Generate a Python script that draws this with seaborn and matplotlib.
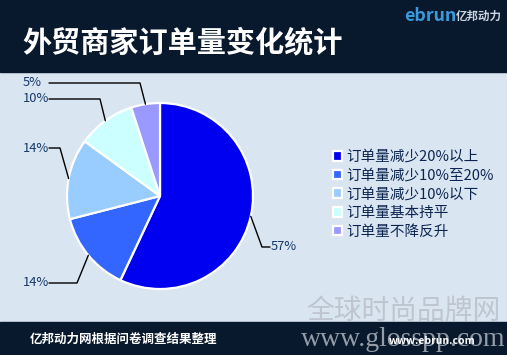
import matplotlib
matplotlib.use("Agg")
import matplotlib.pyplot as plt
import seaborn as sns
import numpy as np
from matplotlib.patches import Rectangle

# ---- data ----
categories = ["订单量减少20%以上", "订单量减少10%至20%", "订单量减少10%以下",
              "订单量基本持平", "订单量不降反升"]
values = [57, 14, 14, 10, 5]
pct_labels = ["57%", "14%", "14%", "10%", "5%"]
colors = ["#0000F0", "#3366FF", "#99CCFF", "#CCFFFF", "#9999FF"]

title = "外贸商家订单量变化统计"
footer = "亿邦动力网根据问卷调查结果整理"

sns.set_style("white")
plt.rcParams['font.family'] = ['Noto Sans CJK SC', 'DejaVu Sans']

W, H = 507, 355
fig = plt.figure(figsize=(W / 100, H / 100), dpi=100)
ax = fig.add_axes([0, 0, 1, 1])


def Y(py):
    return H - py


# backgrounds
body = "#D9E5F1"
navy = "#08182D"
ax.add_patch(Rectangle((0, 0), W, H, color=body, zorder=0))
ax.add_patch(Rectangle((0, Y(72)), W, 72, color=navy, zorder=0.5))
ax.add_patch(Rectangle((0, 0), W, H - 322, color=navy, zorder=0.5))

cx, cy, R = 160, Y(196), 93
wedges, _ = ax.pie(values, colors=sns.color_palette(colors), startangle=90,
                   counterclock=False, center=(cx, cy), radius=R, frame=True,
                   wedgeprops=dict(edgecolor="white", linewidth=1.6))
for w in wedges:
    w.set_zorder(2)

ax.set_xlim(0, W)
ax.set_ylim(0, H)
ax.set_aspect("auto")
ax.axis("off")

# leader lines (layout)
elbows = [(262, 247), (77, 283), (60, 148), (100, 99), (140, 83)]
line_end = [270, 49, 49, 49, 49]
text_x = [271, 23, 23, 23, 23]
lab_color = "#163868"
for w, (ex, ey), lx, tx, lab in zip(wedges, elbows, line_end, text_x, pct_labels):
    mid = np.deg2rad((w.theta1 + w.theta2) / 2)
    px, py = cx + R * np.cos(mid), cy + R * np.sin(mid)
    ax.plot([px, ex, lx], [py, Y(ey), Y(ey)], color="black", lw=1, zorder=3)
    ax.text(tx, Y(ey), lab, ha="left", va="center", fontsize=9.3,
            color=lab_color, zorder=3)

# legend
leg = ax.legend(wedges, categories, loc="upper left",
                bbox_to_anchor=(333 / W, 1 - 150 / H), bbox_transform=fig.transFigure,
                frameon=False, handlelength=0.65, handleheight=0.65,
                handletextpad=0.25, labelspacing=0.32, fontsize=10.5,
                borderaxespad=0, borderpad=0)
for t in leg.get_texts():
    t.set_color("#0B2550")

# title
fig.text(22 / W, 1 - 42 / H, title, fontsize=21, fontweight="bold",
         color="white", va="center", ha="left")

# logo
fig.text(404 / W, 1 - 16 / H, "ebrun", fontsize=12.8, fontweight="bold",
         color="#3A9BDC", va="center", ha="left")
fig.text(456 / W, 1 - 16 / H, "亿邦动力", fontsize=8.3, fontweight="bold",
         color="#C8D4E0", va="center", ha="left")

# watermark
fig.text(403 / W, 1 - 311 / H, "全球时尚品牌网", fontsize=20, color="#B8BEC6",
         alpha=0.8, va="center", ha="center", zorder=4)
fig.text(403 / W, 1 - 339 / H, "www.glosspp.com", fontsize=20, color="#B8BEC6",
         alpha=0.8, va="center", ha="center", family=["Liberation Serif"], zorder=4)

# footer
fig.text(30 / W, 1 - 339 / H, footer, fontsize=9, fontweight="bold",
         color="white", va="center", ha="left", zorder=5)
fig.text(432 / W, 1 - 341 / H, "www.ebrun.com", fontsize=7.5, fontweight="bold",
         color="white", va="center", ha="center", zorder=5)

fig.savefig("out.png", dpi=100)
